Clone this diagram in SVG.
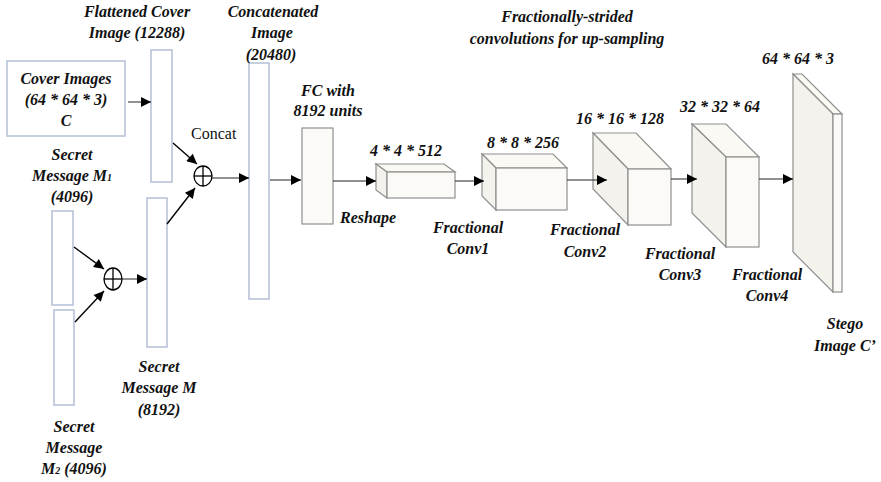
<svg xmlns="http://www.w3.org/2000/svg" width="881" height="482" viewBox="0 0 881 482">
  <style>
    .lbl { font-family: "Liberation Serif", "Times New Roman", serif; font-size: 16px; font-weight: bold; font-style: italic; fill: #111; text-anchor: middle; }
    .plain { font-family: "Liberation Serif", "Times New Roman", serif; font-size: 16px; fill: #111; }
    .vec { fill: #fff; stroke: #b7c3d8; stroke-width: 1.6; }
    .front { fill: #fbfaf6; stroke: #8f8f8f; stroke-width: 1.2; }
    .side { fill: #f3f2ec; stroke: #8f8f8f; stroke-width: 1.2; }
    .top { fill: #faf9f4; stroke: #8f8f8f; stroke-width: 1.2; }
    .op { fill: #fff; stroke: #000; stroke-width: 1.3; }
    .edge { fill: none; stroke: #222; stroke-width: 1; marker-end: url(#arr); }
    .edge2 { fill: none; stroke: #000; stroke-width: 1.4; marker-end: url(#arr); }
  </style>
  <defs>
    <marker id="arr" viewBox="0 0 10 10" refX="10" refY="5" markerUnits="userSpaceOnUse" markerWidth="12" markerHeight="10" orient="auto">
      <path d="M0,0 L10,5 L0,10 Z" fill="#000"/>
    </marker>
  </defs>

  <rect width="881" height="482" fill="#fff"/>

  <!-- Inputs -->
  <g id="cover">
    <rect x="7" y="61" width="118" height="75" fill="#fff" stroke="#b7c3d8" stroke-width="1.6"/>
    <text class="lbl" x="66" y="84">Cover Images</text>
    <text class="lbl" x="66" y="105">(64 * 64 * 3)</text>
    <text class="lbl" x="66" y="126">C</text>
  </g>

  <g id="flattened">
    <rect class="vec" x="151" y="50" width="21" height="132"/>
    <text class="lbl" x="137" y="17">Flattened Cover</text>
    <text class="lbl" x="137" y="38">Image (12288)</text>
  </g>

  <g id="m1">
    <rect class="vec" x="52" y="211" width="21" height="94"/>
    <text class="lbl" x="72" y="160">Secret</text>
    <text class="lbl" x="72" y="181">Message M<tspan font-size="10">1</tspan></text>
    <text class="lbl" x="72" y="202">(4096)</text>
  </g>

  <g id="m2">
    <rect class="vec" x="54" y="310" width="20" height="95"/>
    <text class="lbl" x="74" y="432">Secret</text>
    <text class="lbl" x="74" y="453">Message</text>
    <text class="lbl" x="74" y="474">M<tspan font-size="10">2</tspan> (4096)</text>
  </g>

  <g id="xor-m">
    <ellipse class="op" cx="113" cy="279" rx="9" ry="11"/>
    <line x1="104" y1="279" x2="122" y2="279" stroke="#000" stroke-width="1.3"/>
    <line x1="113" y1="268" x2="113" y2="290" stroke="#000" stroke-width="1.3"/>
  </g>

  <g id="message">
    <rect class="vec" x="147" y="198" width="20" height="149"/>
    <text class="lbl" x="159" y="372">Secret</text>
    <text class="lbl" x="159" y="393">Message M</text>
    <text class="lbl" x="159" y="415">(8192)</text>
  </g>

  <g id="concat-op">
    <ellipse class="op" cx="203" cy="176" rx="9" ry="10"/>
    <line x1="194" y1="176" x2="212" y2="176" stroke="#000" stroke-width="1.3"/>
    <line x1="203" y1="166" x2="203" y2="186" stroke="#000" stroke-width="1.3"/>
    <text class="plain" x="191" y="139">Concat</text>
  </g>

  <g id="concatenated">
    <rect class="vec" x="249" y="63" width="20" height="236"/>
    <text class="lbl" x="273" y="17">Concatenated</text>
    <text class="lbl" x="272" y="38">Image</text>
    <text class="lbl" x="271" y="60">(20480)</text>
  </g>

  <g id="fc">
    <rect class="front" x="302" y="128" width="31" height="96"/>
    <text class="lbl" x="328" y="96">FC with</text>
    <text class="lbl" x="328" y="116">8192 units</text>
    <text class="lbl" x="368" y="223">Reshape</text>
  </g>

  <text class="lbl" x="567" y="22">Fractionally-strided</text>
  <text class="lbl" x="567" y="44">convolutions for up-sampling</text>

  <!-- Feature volumes -->
  <g id="vol1">
    <polygon class="top" points="376,164 444,164 455,172 387,172"/>
    <polygon class="side" points="376,164 387,172 387,198 376,190"/>
    <rect class="front" x="387" y="172" width="68" height="26"/>
    <text class="lbl" x="406" y="156">4 * 4 * 512</text>
  </g>

  <g id="vol2">
    <polygon class="top" points="482,154 553,154 567,168 496,168"/>
    <polygon class="side" points="482,154 496,168 496,210 482,196"/>
    <rect class="front" x="496" y="168" width="71" height="42"/>
    <text class="lbl" x="523" y="148">8 * 8 * 256</text>
    <text class="lbl" x="468" y="233">Fractional</text>
    <text class="lbl" x="468" y="254">Conv1</text>
  </g>

  <g id="vol3">
    <polygon class="top" points="593,133 636,133 671,169 628,169"/>
    <polygon class="side" points="593,133 628,169 628,225 593,189"/>
    <rect class="front" x="628" y="169" width="43" height="56"/>
    <text class="lbl" x="620" y="124">16 * 16 * 128</text>
    <text class="lbl" x="585" y="235">Fractional</text>
    <text class="lbl" x="585" y="257">Conv2</text>
  </g>

  <g id="vol4">
    <polygon class="top" points="692,124 726,124 759,157 726,157"/>
    <polygon class="side" points="692,124 726,157 726,247 692,213"/>
    <rect class="front" x="726" y="157" width="33" height="90"/>
    <text class="lbl" x="720" y="112">32 * 32 * 64</text>
    <text class="lbl" x="680" y="259">Fractional</text>
    <text class="lbl" x="680" y="280">Conv3</text>
  </g>

  <g id="vol5">
    <polygon class="top" points="793,74 802,74 842,114 833,114"/>
    <polygon class="side" points="793,74 833,114 833,292 793,252"/>
    <rect class="front" x="833" y="114" width="9" height="178"/>
    <text class="lbl" x="798" y="64">64 * 64 * 3</text>
    <text class="lbl" x="767" y="280">Fractional</text>
    <text class="lbl" x="767" y="301">Conv4</text>
    <text class="lbl" x="845" y="329">Stego</text>
    <text class="lbl" x="845" y="351">Image C’</text>
  </g>

  <!-- Connectors -->
  <g id="connectors">
    <line class="edge" x1="128" y1="102" x2="151" y2="102"/>
    <line class="edge2" x1="173" y1="143" x2="197" y2="164"/>
    <line class="edge2" x1="167" y1="224" x2="195" y2="188"/>
    <line class="edge" x1="212" y1="178" x2="249" y2="178"/>
    <line class="edge2" x1="74" y1="247" x2="104" y2="269"/>
    <line class="edge2" x1="75" y1="322" x2="104" y2="291"/>
    <line class="edge" x1="122" y1="279" x2="147" y2="279"/>
    <line class="edge" x1="270" y1="180" x2="301" y2="180"/>
    <line class="edge" x1="333" y1="181" x2="376" y2="181"/>
    <line class="edge" x1="455" y1="181" x2="484" y2="181"/>
    <line class="edge" x1="567" y1="180" x2="607" y2="180"/>
    <line class="edge" x1="671" y1="179" x2="697" y2="179"/>
    <line class="edge" x1="759" y1="179" x2="793" y2="179"/>
  </g>
</svg>
